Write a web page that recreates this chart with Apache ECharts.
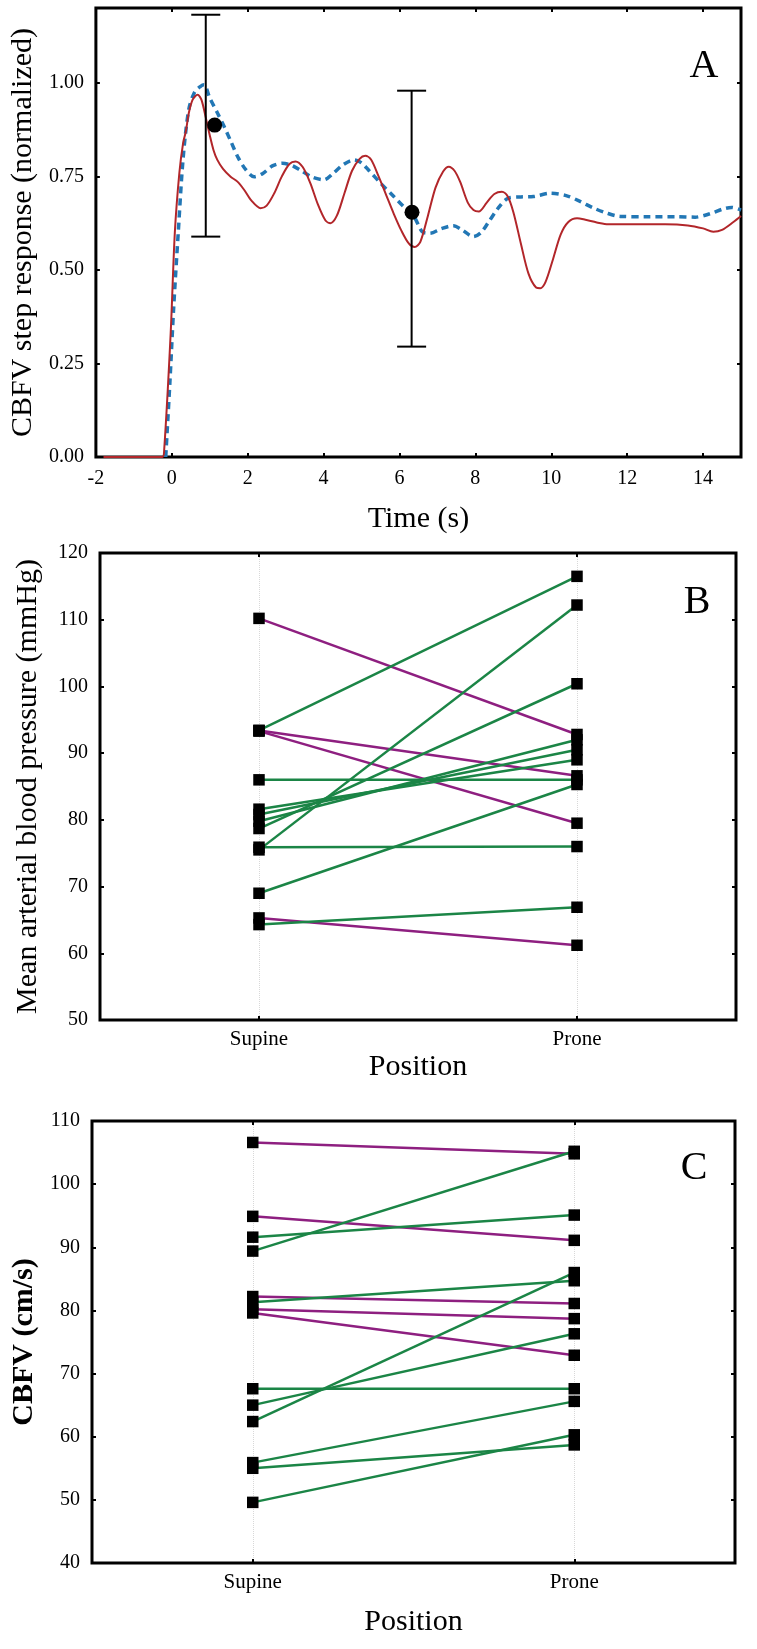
<!DOCTYPE html>
<html><head><meta charset="utf-8">
<script src="https://cdn.jsdelivr.net/npm/echarts@6/dist/echarts.min.js"></script>
<style>html,body{margin:0;padding:0;background:#fff}#c{width:757px;height:1649px}</style>
</head><body><div id="c"></div>
<script>
// ---------- Panel A data ----------
const redCurve = [[-1.8,0],[-0.25,0],[-0.2,0.02],[-0.03,0.33],[0.08,0.6],[0.2,0.76],[0.3,0.84],[0.37,0.87],[0.45,0.92],[0.55,0.955],[0.68,0.968],[0.78,0.955],[0.9,0.905],[1.0,0.86],[1.1,0.82],[1.2,0.794],[1.35,0.77],[1.55,0.749],[1.73,0.736],[1.9,0.715],[2.1,0.685],[2.34,0.665],[2.5,0.672],[2.7,0.705],[2.9,0.75],[3.1,0.783],[3.26,0.79],[3.45,0.775],[3.65,0.732],[3.85,0.675],[4.05,0.632],[4.18,0.625],[4.35,0.645],[4.55,0.705],[4.75,0.765],[4.95,0.797],[5.1,0.805],[5.25,0.795],[5.45,0.75],[5.65,0.7],[5.85,0.65],[6.05,0.605],[6.25,0.57],[6.4,0.561],[6.55,0.575],[6.75,0.645],[6.95,0.72],[7.15,0.763],[7.3,0.776],[7.45,0.765],[7.6,0.735],[7.8,0.68],[7.95,0.66],[8.09,0.656],[8.3,0.68],[8.5,0.703],[8.7,0.709],[8.85,0.697],[9.0,0.655],[9.2,0.57],[9.4,0.49],[9.6,0.453],[9.71,0.451],[9.85,0.468],[10.05,0.53],[10.25,0.595],[10.45,0.628],[10.68,0.638],[10.9,0.634],[11.2,0.627],[11.5,0.622],[12.0,0.622],[13.0,0.622],[13.6,0.619],[14.0,0.611],[14.27,0.602],[14.5,0.607],[14.8,0.628],[15.0,0.644]];
const blueCurve = [[-0.16,0],[-0.05,0.2],[0.05,0.4],[0.17,0.6],[0.3,0.8],[0.45,0.93],[0.6,0.975],[0.75,0.99],[0.85,0.995],[1.0,0.96],[1.2,0.92],[1.38,0.883],[1.55,0.845],[1.75,0.8],[1.95,0.768],[2.17,0.749],[2.4,0.758],[2.65,0.778],[2.91,0.785],[3.15,0.78],[3.4,0.766],[3.7,0.748],[4.01,0.741],[4.25,0.758],[4.5,0.78],[4.8,0.794],[5.0,0.786],[5.2,0.765],[5.5,0.732],[5.85,0.696],[6.1,0.67],[6.38,0.643],[6.6,0.602],[6.8,0.598],[7.1,0.61],[7.42,0.618],[7.65,0.607],[7.95,0.589],[8.15,0.6],[8.35,0.628],[8.6,0.665],[8.87,0.692],[9.2,0.695],[9.53,0.696],[9.97,0.705],[10.41,0.698],[10.76,0.683],[11.1,0.666],[11.46,0.652],[11.82,0.643],[12.5,0.642],[13.3,0.642],[13.79,0.641],[14.18,0.65],[14.53,0.663],[14.75,0.667],[15.0,0.66]];
const meanPoints = [[1.13,0.887],[6.33,0.654]];
const errorBars = [[0.895,0.589,1.182],[6.32,0.295,0.979]]; // x, low, high

// ---------- Panels B & C data ----------
const positions = ['Supine','Prone'];
const mapSupine = [110.2, 93.4, 93.4, 93.3, 86.0, 81.6, 80.8, 79.8, 78.7, 75.5, 75.9, 69.0, 65.3, 64.3];
const mapProne  = [92.8, 116.5, 86.6, 79.5, 86.0, 89.0, 90.5, 92.0, 100.4, 112.2, 76.0, 85.3, 61.2, 66.9];
const cbfvSupine = [106.6, 94.9, 91.6, 89.4, 82.2, 81.3, 80.2, 79.6, 67.6, 65.0, 62.4, 55.9, 55.0, 49.6];
const cbfvProne  = [104.8, 91.1, 95.1, 105.2, 81.1, 84.7, 78.7, 72.9, 67.6, 76.3, 86.0, 65.6, 58.7, 60.3];

const FONT = 'Liberation Serif';
const GREEN = '#1b8546', PURPLE = '#8e1f80';
const slots = ['', positions[0], '', positions[1], ''];
const slotIdx = [1, 3];
const onCat = (i) => i === 1 || i === 3;

const chart = echarts.init(document.getElementById('c'));

const tickStyle = {show:true, inside:true, length:4, lineStyle:{color:'#000', width:2}};
const noLine = {show:false, onZero:false};
function valX(grid, min, max, interval, name, gap, top){
  return {type:'value', gridIndex:grid, min, max, interval, position: top?'top':'bottom',
    axisLine:noLine, splitLine:{show:false}, axisTick:tickStyle,
    axisLabel: top?{show:false}:{color:'#000', fontFamily:FONT, fontSize:20, margin:12, showMaxLabel:false},
    name: top?'':name, nameLocation:'middle', nameGap:gap,
    nameTextStyle:{color:'#000', fontFamily:FONT, fontSize:30}};
}
function valY(grid, min, max, interval, name, gap, right, fmt, bold){
  return {type:'value', gridIndex:grid, min, max, interval, position: right?'right':'left',
    axisLine:noLine, splitLine:{show:false}, axisTick:tickStyle,
    axisLabel: right?{show:false}:{color:'#000', fontFamily:FONT, fontSize:20, margin:12, showMaxLabel: fmt?false:true, formatter: fmt},
    name: right?'':name, nameLocation:'middle', nameGap:gap,
    nameTextStyle:{color:'#000', fontFamily:FONT, fontSize:30, fontWeight: bold?'bold':'normal'}};
}
function catX(grid, name, gap, top){
  return {type:'category', gridIndex:grid, data:slots, boundaryGap:false, position: top?'top':'bottom',
    axisLine:noLine,
    axisTick:Object.assign({}, tickStyle, {interval:(i)=>onCat(i)}),
    splitLine: top?{show:false}:{show:true, interval:(i)=>onCat(i), lineStyle:{color:'#d8d8d8', width:1, type:'dotted'}},
    axisLabel: top?{show:false}:{color:'#000', fontFamily:FONT, fontSize:21, margin:9, interval:0},
    name: top?'':name, nameLocation:'middle', nameGap:gap,
    nameTextStyle:{color:'#000', fontFamily:FONT, fontSize:30}};
}

const series = [];
series.push({type:'line', xAxisIndex:0, yAxisIndex:0, data:blueCurve, smooth:0.3, showSymbol:false,
  lineStyle:{color:'#2277b5', width:3.5, type:[7,5], cap:'butt'}, z:2});
series.push({type:'line', xAxisIndex:0, yAxisIndex:0, data:redCurve, smooth:0.3, showSymbol:false,
  lineStyle:{color:'#b2262a', width:2}, z:3});
series.push({type:'custom', xAxisIndex:0, yAxisIndex:0, data:errorBars, z:4,
  encode:{x:0, y:[1,2]},
  renderItem(params, api){
    const lo = api.coord([api.value(0), api.value(1)]);
    const hi = api.coord([api.value(0), api.value(2)]);
    const w = 14.5, st = {stroke:'#000', lineWidth:2};
    return {type:'group', children:[
      {type:'line', shape:{x1:lo[0], y1:lo[1], x2:hi[0], y2:hi[1]}, style:st},
      {type:'line', shape:{x1:lo[0]-w, y1:lo[1], x2:lo[0]+w, y2:lo[1]}, style:st},
      {type:'line', shape:{x1:hi[0]-w, y1:hi[1], x2:hi[0]+w, y2:hi[1]}, style:st}
    ]};
  }});
series.push({type:'scatter', xAxisIndex:0, yAxisIndex:0, data:meanPoints, symbol:'circle', symbolSize:15,
  itemStyle:{color:'#000', opacity:1}, z:5});

function pairSeries(xi, yi, sup, pro){
  const pts = [];
  sup.forEach((s, i) => {
    const p = pro[i];
    series.push({type:'line', xAxisIndex:xi, yAxisIndex:yi, data:[[slotIdx[0], s],[slotIdx[1], p]],
      showSymbol:false, lineStyle:{color: p >= s ? GREEN : PURPLE, width:2.5}, z:2});
    pts.push([slotIdx[0], s]); pts.push([slotIdx[1], p]);
  });
  series.push({type:'scatter', xAxisIndex:xi, yAxisIndex:yi, data:pts, symbol:'rect', symbolSize:11.5,
    itemStyle:{color:'#000', opacity:1}, z:5});
}
pairSeries(2, 2, mapSupine, mapProne);
pairSeries(4, 4, cbfvSupine, cbfvProne);

const gridBase = {show:true, borderColor:'#000', borderWidth:3, backgroundColor:'transparent', containLabel:false};
chart.setOption({
  animation:false,
  backgroundColor:'#fff',
  textStyle:{fontFamily:FONT},
  grid:[
    Object.assign({left:95, top:8, width:646, height:449}, gridBase),
    Object.assign({left:100, top:553, width:636, height:467}, gridBase),
    Object.assign({left:92, top:1121, width:643, height:442}, gridBase)
  ],
  xAxis:[
    valX(0, -2, 15, 2, 'Time (s)', 47, false),
    valX(0, -2, 15, 2, '', 0, true),
    catX(1, 'Position', 32, false),
    catX(1, '', 0, true),
    catX(2, 'Position', 44, false),
    catX(2, '', 0, true)
  ],
  yAxis:[
    valY(0, 0, 1.2, 0.25, 'CBFV step response (normalized)', 57, false, (v)=>v.toFixed(2)),
    valY(0, 0, 1.2, 0.25, '', 0, true),
    valY(1, 50, 120, 10, 'Mean arterial blood pressure (mmHg)', 57, false),
    valY(1, 50, 120, 10, '', 0, true),
    valY(2, 40, 110, 10, 'CBFV (cm/s)', 53, false, undefined, true),
    valY(2, 40, 110, 10, '', 0, true)
  ],
  graphic:[
    {type:'text', x:704, y:66, style:{text:'A', font:'40px "Liberation Serif"', fill:'#000', textAlign:'center', textVerticalAlign:'middle'}},
    {type:'text', x:697, y:602, style:{text:'B', font:'40px "Liberation Serif"', fill:'#000', textAlign:'center', textVerticalAlign:'middle'}},
    {type:'text', x:694, y:1168, style:{text:'C', font:'40px "Liberation Serif"', fill:'#000', textAlign:'center', textVerticalAlign:'middle'}}
  ],
  series
});
</script></body></html>
